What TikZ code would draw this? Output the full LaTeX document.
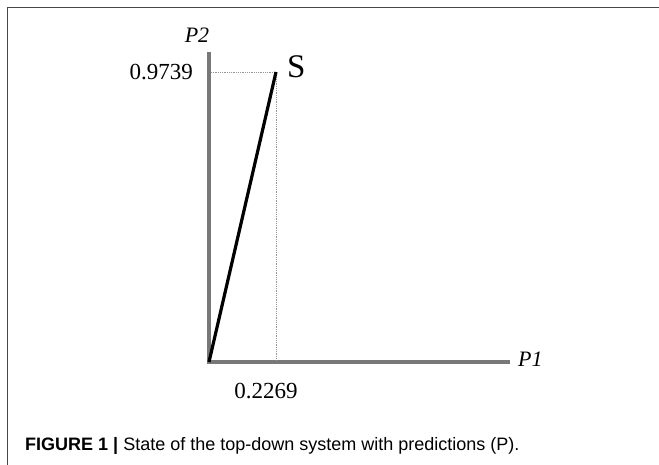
\documentclass[tikz,border=0pt]{standalone}
\usepackage{fontspec}
\setmainfont{Liberation Serif}
\newfontfamily\capfont{Liberation Sans}
\usetikzlibrary{positioning}
\definecolor{axisgray}{RGB}{120,120,120}
\definecolor{dotgray}{RGB}{150,150,150}
\definecolor{framegray}{RGB}{70,70,70}

\begin{document}
\begin{tikzpicture}[x=1pt, y=-1pt, inner sep=0pt,
    axisline/.style={draw=axisgray, line width=4pt},
    guideline/.style={draw=dotgray, line width=0.8pt, densely dotted},
    lbl/.style={font=\fontsize{23}{26}\selectfont}]
    \useasboundingbox (0,0) rectangle (659,465);
    \draw[framegray, line width=1.3pt] (659,7.5) -- (7.5,7.5) -- (7.5,465);
    % axes
    \coordinate (origin) at (209,362);
    \coordinate (ytop) at (209,52);
    \coordinate (xend) at (510,362);
    \coordinate (state) at (276,72);
    \draw[axisline] (ytop) -- (origin) -- (xend);
    \draw[guideline] (211,72) -- (state) -- (276,360);
    \draw[line width=3.2pt] (origin) -- (state);
    % labels
    \node[lbl, font=\fontsize{22}{24}\itshape, above=9pt of ytop, xshift=-12pt] (p2) {P2};
    \node[lbl, anchor=east] (yval) at (193,72) {0.9739};
    \node[lbl, font=\fontsize{33}{36}\selectfont, anchor=west] (s) at (287,67) {S};
    \node[lbl] (xval) at (266,391) {0.2269};
    \node[lbl, font=\fontsize{22}{24}\itshape, right=8pt of xend, yshift=3pt] (p1) {P1};
    \node[anchor=base west, font=\capfont\fontsize{18}{20}\selectfont] (cap) at (25,450)
        {\textbf{FIGURE 1 |} State of the top-down system with predictions (P).};
\end{tikzpicture}
\end{document}
